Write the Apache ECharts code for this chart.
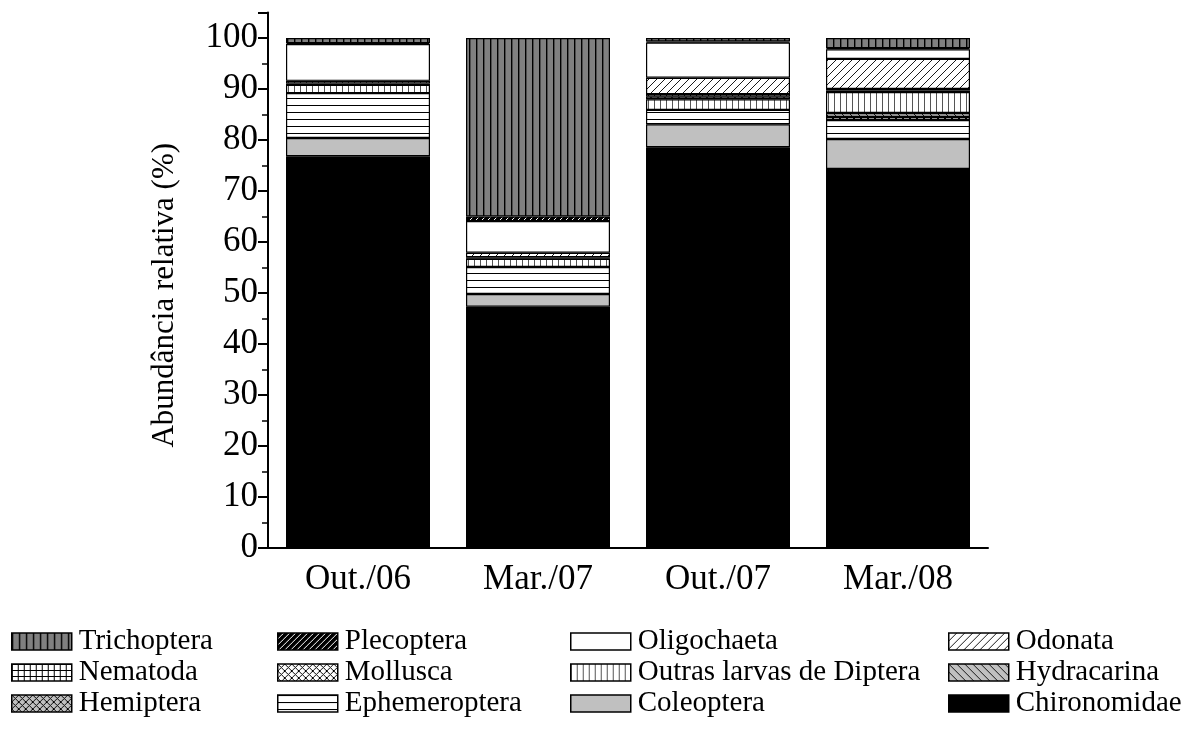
<!DOCTYPE html>
<html>
<head>
<meta charset="UTF-8">
<title>Abundância relativa</title>
<script src="https://cdn.jsdelivr.net/npm/echarts@6/dist/echarts.min.js"></script>
<style>
  html, body { margin: 0; padding: 0; background: #fff; }
  #chart { width: 1203px; height: 731px; }
</style>
</head>
<body>
<div id="chart"></div>
<script>
// data (% of each sample)
var categories = ['Out./06', 'Mar./07', 'Out./07', 'Mar./08'];
var chironomidae = [76.8, 47.3, 78.6, 74.3];
var coleoptera = [3.6, 2.5, 4.5, 5.9];
var ephemeroptera = [8.8, 5.3, 2.8, 3.7];
var hemiptera = [0, 0, 0, 0.6];
var hydracarina = [0, 0, 0, 0.8];
var outrasLarvas = [1.6, 1.6, 2.1, 4.1];
var mollusca = [0.3, 0, 0.5, 0.3];
var nematoda = [0.5, 0.3, 0.5, 0.3];
var odonata = [0, 0.9, 3.2, 5.9];
var oligochaeta = [7.2, 6.2, 6.9, 1.9];
var plecoptera = [0.2, 0.9, 0.2, 0.2];
var trichoptera = [1.0, 35.0, 0.7, 2.0];
var yTicks = [0, 10, 20, 30, 40, 50, 60, 70, 80, 90, 100];

// small canvas tiles for the hatch fills
function tile(w, h, bg, draw) {
  var c = document.createElement('canvas');
  c.width = w; c.height = h;
  var ctx = c.getContext('2d');
  ctx.fillStyle = bg;
  ctx.fillRect(0, 0, w, h);
  ctx.strokeStyle = '#000';
  ctx.lineWidth = 1;
  draw(ctx, w, h);
  return { image: c, repeat: 'repeat' };
}
function slash(ctx, w) {
  ctx.beginPath();
  ctx.moveTo(-1, w + 1); ctx.lineTo(w + 1, -1);
  ctx.moveTo(-1, 1); ctx.lineTo(1, -1);
  ctx.moveTo(w - 1, w + 1); ctx.lineTo(w + 1, w - 1);
  ctx.stroke();
}
function backslash(ctx, w) {
  ctx.beginPath();
  ctx.moveTo(-1, -1); ctx.lineTo(w + 1, w + 1);
  ctx.moveTo(w - 1, -1); ctx.lineTo(w + 1, 1);
  ctx.moveTo(-1, w - 1); ctx.lineTo(1, w + 1);
  ctx.stroke();
}

var fills = {
  trichoptera: tile(7, 7, '#808080', function (ctx, w, h) {
    ctx.lineWidth = 1.4;
    ctx.beginPath(); ctx.moveTo(0.7, 0); ctx.lineTo(0.7, h); ctx.stroke();
  }),
  plecoptera: tile(6, 6, '#000', function (ctx, w) {
    ctx.strokeStyle = '#fff'; ctx.lineWidth = 1; slash(ctx, w);
  }),
  oligochaeta: '#fff',
  odonata: tile(8, 8, '#fff', function (ctx, w) { ctx.lineWidth = 0.9; slash(ctx, w); }),
  nematoda: tile(6, 6, '#fff', function (ctx, w, h) {
    ctx.beginPath();
    ctx.moveTo(0.5, 0); ctx.lineTo(0.5, h);
    ctx.moveTo(0, 0.5); ctx.lineTo(w, 0.5);
    ctx.stroke();
  }),
  mollusca: tile(7, 7, '#fff', function (ctx, w) { slash(ctx, w); backslash(ctx, w); }),
  outrasLarvas: tile(6, 6, '#fff', function (ctx, w, h) {
    ctx.strokeStyle = '#555';
    ctx.beginPath(); ctx.moveTo(0.5, 0); ctx.lineTo(0.5, h); ctx.stroke();
  }),
  hydracarina: tile(8, 8, '#c0c0c0', function (ctx, w) { ctx.lineWidth = 0.9; backslash(ctx, w); }),
  hemiptera: tile(7, 7, '#c0c0c0', function (ctx, w) { slash(ctx, w); backslash(ctx, w); }),
  ephemeroptera: tile(7, 7, '#fff', function (ctx, w) {
    ctx.beginPath(); ctx.moveTo(0, 0.5); ctx.lineTo(w, 0.5); ctx.stroke();
  }),
  coleoptera: '#c0c0c0',
  chironomidae: '#000'
};

// bottom to top
var layers = [
  ['Chironomidae', chironomidae, fills.chironomidae],
  ['Coleoptera', coleoptera, fills.coleoptera],
  ['Ephemeroptera', ephemeroptera, fills.ephemeroptera],
  ['Hemiptera', hemiptera, fills.hemiptera],
  ['Hydracarina', hydracarina, fills.hydracarina],
  ['Outras larvas de Diptera', outrasLarvas, fills.outrasLarvas],
  ['Mollusca', mollusca, fills.mollusca],
  ['Nematoda', nematoda, fills.nematoda],
  ['Odonata', odonata, fills.odonata],
  ['Oligochaeta', oligochaeta, fills.oligochaeta],
  ['Plecoptera', plecoptera, fills.plecoptera],
  ['Trichoptera', trichoptera, fills.trichoptera]
];

var series = layers.map(function (l) {
  return {
    name: l[0],
    type: 'bar',
    stack: 'total',
    barWidth: 144,
    data: l[1].map(function (v) { return v === 0 ? '-' : v; }),
    itemStyle: { color: l[2], borderColor: '#000', borderWidth: 1.2 }
  };
});

var font = 'Liberation Serif, Times New Roman, serif';
function legendCol(left, names) {
  return {
    orient: 'vertical',
    left: left,
    top: 627,
    height: 104,
    padding: 0,
    data: names,
    icon: 'rect',
    itemWidth: 60,
    itemHeight: 17,
    itemGap: 2,
    selectedMode: false,
    itemStyle: { borderColor: '#000', borderWidth: 1.5 },
    textStyle: { fontFamily: font, fontSize: 29, color: '#000', padding: [0, 0, 0, 2] }
  };
}

var chart = echarts.init(document.getElementById('chart'));
chart.setOption({
  animation: false,
  backgroundColor: '#fff',
  grid: { left: 268, top: 12.5, width: 720, height: 535.5 },
  legend: [
    legendCol(11, ['Trichoptera', 'Nematoda', 'Hemiptera']),
    legendCol(277, ['Plecoptera', 'Mollusca', 'Ephemeroptera']),
    legendCol(570, ['Oligochaeta', 'Outras larvas de Diptera', 'Coleoptera']),
    legendCol(948, ['Odonata', 'Hydracarina', 'Chironomidae'])
  ],
  xAxis: {
    type: 'category',
    data: categories,
    axisLine: { lineStyle: { color: '#000', width: 2 } },
    axisTick: { alignWithLabel: true, length: 8, lineStyle: { color: '#000', width: 2 } },
    axisLabel: { color: '#000', fontFamily: font, fontSize: 35, margin: 14 }
  },
  yAxis: {
    type: 'value',
    min: 0,
    max: 105,
    interval: 10,
    name: 'Abundância relativa (%)',
    nameLocation: 'middle',
    nameGap: 88,
    nameTextStyle: { color: '#000', fontFamily: font, fontSize: 31, padding: [0, 30, 0, 0] },
    axisLine: { show: true, lineStyle: { color: '#000', width: 2 } },
    axisTick: { show: true, length: 10, lineStyle: { color: '#000', width: 2 } },
    minorTick: { show: true, splitNumber: 2, length: 6, lineStyle: { color: '#000', width: 1.5 } },
    splitLine: { show: false },
    axisLabel: {
      color: '#000', fontFamily: font, fontSize: 35, margin: 10,
      formatter: function (v) { return yTicks.indexOf(v) >= 0 ? String(v) : ''; }
    }
  },
  series: series
});
</script>
</body>
</html>
